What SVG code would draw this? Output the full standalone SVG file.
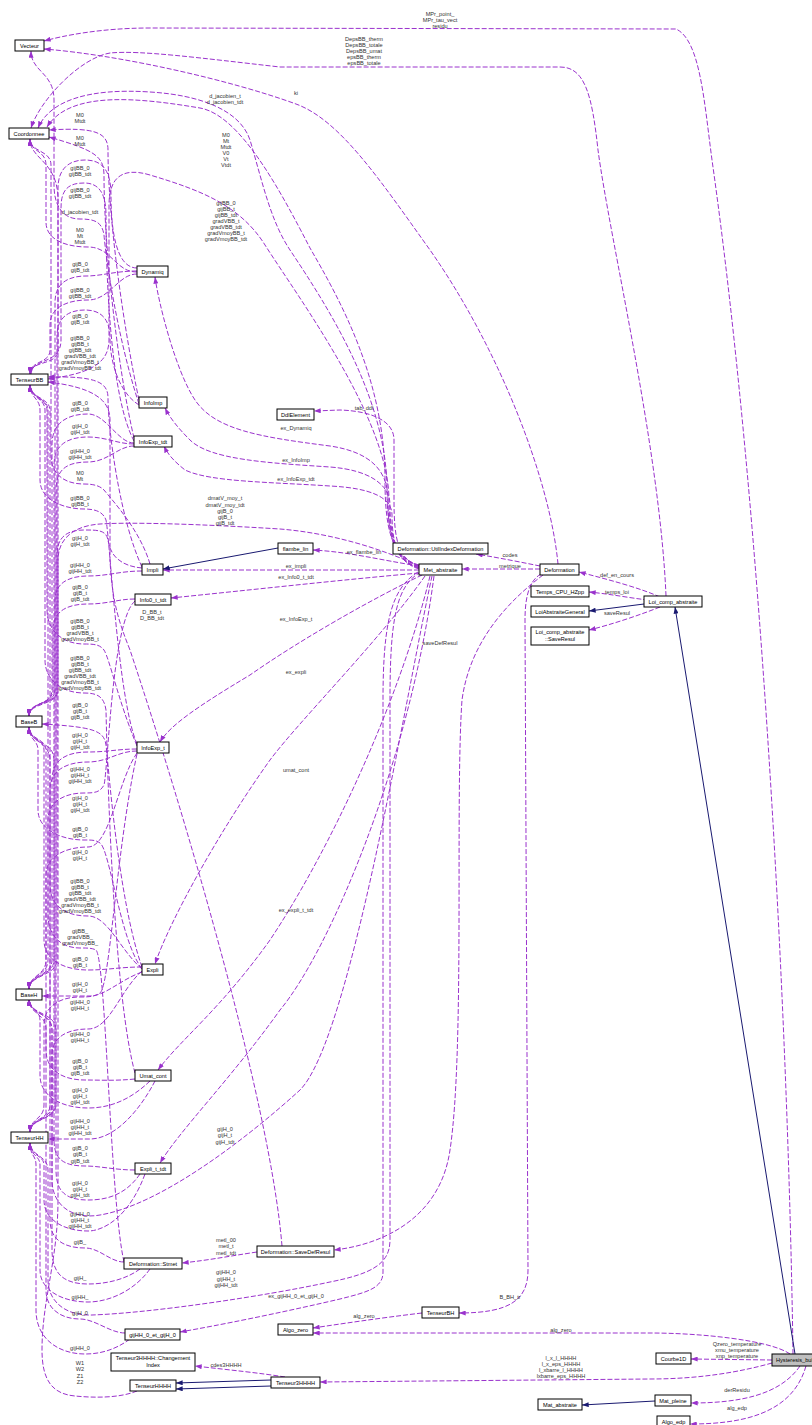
<svg xmlns="http://www.w3.org/2000/svg" width="812" height="1425" viewBox="0 0 812 1425">
<style>
.e{fill:none;stroke:#9a32cd;stroke-width:1;stroke-dasharray:5,2;marker-end:url(#ap)}
.n{fill:none;stroke:#191970;stroke-width:1;marker-end:url(#an)}
.l{font-family:"Liberation Sans",Arial,sans-serif;font-size:5.6px;fill:#333;text-anchor:middle}
.nd rect{fill:#fff;stroke:#000;stroke-width:1}
.nd text{font-family:"Liberation Sans",Arial,sans-serif;font-size:5.6px;fill:#000;text-anchor:middle}
</style>
<defs>
<marker id="ap" viewBox="0 0 8 6" refX="8" refY="3" markerWidth="7" markerHeight="5" markerUnits="userSpaceOnUse" orient="auto"><path d="M0,0 L8,3 L0,6 z" fill="#9a32cd" stroke="none"/></marker>
<marker id="an" viewBox="0 0 8 6" refX="8" refY="3" markerWidth="7" markerHeight="5" markerUnits="userSpaceOnUse" orient="auto"><path d="M0,0 L8,3 L0,6 z" fill="#191970" stroke="none"/></marker>
</defs>
<rect width="812" height="1425" fill="#fff"/>

<g id="connectors">
<!-- left column: member links into the tensor / base classes -->
<path class="e" d="M139,400 C124,330 108,220 108,150 C108,133 96,127 49,130"/>
<path class="e" d="M134,438 C118,370 104,250 104,175 C104,156 94,150 49,137"/>
<path class="e" d="M137,268 C116,268 111,230 111,195 C111,170 102,160 85,160 C68,160 58,170 58,188 L58,350 C58,366 30,360 30,374"/>
<path class="e" d="M134,441 C112,400 106,290 106,215 C106,192 98,183 84,183 C68,183 61,190 61,208 L61,340 C61,365 31,358 31,374"/>
<path class="e" d="M139,404 C118,340 106,260 104,235 C102,222 95,219 80,219 C62,219 54,205 54,185 L54,100 C54,72 31,72 31,51"/>
<path class="e" d="M137,272 C115,272 112,247 88,247 C66,247 46,240 46,222 L46,165 C46,150 30,152 30,139"/>
<path class="e" d="M137,271 C115,271 102,276 86,276 C66,276 55,285 55,302 L55,690 C55,706 29,700 29,716"/>
<path class="e" d="M137,274 C118,274 110,300 88,300 C66,300 50,308 50,325 L50,350 C50,364 30,360 30,374"/>
<path class="e" d="M139,405 C118,392 110,360 110,338 C110,318 100,310 85,310 C68,310 57,318 57,336 L57,690 C57,706 29,700 29,716"/>
<path class="e" d="M142,567 C120,520 108,430 108,398 C108,382 96,376 48,377"/>
<path class="e" d="M134,443 C118,443 106,414 88,414 C66,414 52,424 52,444 L52,690 C52,706 29,702 29,716"/>
<path class="e" d="M134,444 C118,444 106,437 88,437 C66,437 54,446 54,465 L54,960 C54,976 29,975 29,989"/>
<path class="e" d="M134,446 C118,446 108,462 88,462 C66,462 56,470 56,490 L56,1105 C56,1120 30,1118 30,1132"/>
<path class="e" d="M150,564 C140,530 112,500 104,490 C100,486 94,484 84,484 C64,484 51,474 51,455 L51,165 C51,150 30,152 30,139"/>
<path class="e" d="M137,744 C118,700 110,540 106,520 C103,512 96,509 84,509 C64,509 40,500 40,480 L40,410 C40,398 30,398 30,385"/>
<path class="e" d="M142,568 C120,566 110,555 108,540 C106,530 98,530 84,530 C66,530 57,538 57,555 L57,960 C57,976 29,975 29,989"/>
<path class="e" d="M142,571 C120,571 108,576 88,576 C66,576 55,585 55,600 L55,1105 C55,1120 30,1118 30,1132"/>
<path class="e" d="M135,599 C118,599 108,604 88,604 C66,604 53,612 53,630 L53,690 C53,705 29,702 29,716"/>
<path class="e" d="M137,746 C118,700 110,660 104,650 C100,645 96,644 84,644 C62,644 47,630 47,610 L47,410 C47,398 30,398 30,385"/>
<path class="e" d="M135,1073 C115,1000 108,800 106,710 C104,697 98,693 84,693 C62,693 45,680 45,660 L45,410 C45,398 30,398 30,385"/>
<path class="e" d="M142,967 C118,900 108,760 106,745 C104,731 95,727 42,724"/>
<path class="e" d="M137,749 C118,749 108,752 88,752 C66,752 52,760 52,780 L52,960 C52,976 29,975 29,989"/>
<path class="e" d="M137,751 C118,751 108,762 88,762 C64,762 50,772 50,790 L50,1105 C50,1120 30,1118 30,1132"/>
<path class="e" d="M135,601 C112,620 108,770 104,785 C100,792 96,793 84,793 C64,793 48,802 48,820 L48,960 C48,976 29,975 29,989"/>
<path class="e" d="M142,969 C120,940 110,850 100,843 C96,840 92,840 84,840 C62,840 38,830 38,810 L38,750 C38,740 29,740 29,727"/>
<path class="e" d="M137,753 C118,780 110,847 88,847 C66,847 46,856 46,875 L46,960 C46,976 29,975 29,989"/>
<path class="e" d="M142,969 C120,950 108,916 88,916 C64,916 50,905 50,885 L50,410 C50,398 30,398 30,385"/>
<path class="e" d="M124,1262 C110,1200 106,960 96,950 C92,948 88,948 80,948 C60,948 48,935 48,915 L48,410 C48,398 30,398 30,385"/>
<path class="e" d="M142,967 C120,967 108,970 88,970 C64,970 44,960 44,940 L44,750 C44,738 29,740 29,727"/>
<path class="e" d="M142,972 C120,980 105,996 90,996 L42,996"/>
<path class="e" d="M137,754 C116,850 110,985 100,993 C94,997 88,997 80,997 C60,997 44,1006 44,1025 L44,1105 C44,1120 30,1118 30,1132"/>
<path class="e" d="M142,971 C120,990 110,1029 88,1029 C66,1029 52,1038 52,1055 L52,1105 C52,1120 30,1118 30,1132"/>
<path class="e" d="M135,1079 C115,1081 100,1080 85,1080 C62,1080 46,1070 46,1050 L46,750 C46,738 29,740 29,727"/>
<path class="e" d="M150,1081 C130,1100 110,1108 88,1108 C64,1108 40,1098 40,1075 L40,1020 C40,1010 29,1010 29,999"/>
<path class="e" d="M155,1081 C140,1110 115,1139 90,1139 L48,1139"/>
<path class="e" d="M135,1170 C115,1170 100,1166 85,1166 C62,1166 54,1158 54,1140 L54,760 C54,740 29,745 29,727"/>
<path class="e" d="M140,1174 C125,1196 105,1200 88,1200 C64,1200 56,1190 56,1170 L56,1030 C56,1012 29,1015 29,999"/>
<path class="e" d="M145,1174 C130,1215 105,1231 88,1231 C64,1231 44,1220 44,1200 L44,1165 C44,1155 30,1156 30,1143"/>
<path class="e" d="M124,1262 C110,1262 100,1248 85,1248 C62,1248 50,1238 50,1220 L50,760 C50,742 29,742 29,727"/>
<path class="e" d="M140,1269 C125,1280 105,1284 88,1284 C62,1284 52,1272 52,1250 L52,1030 C52,1012 29,1015 29,999"/>
<path class="e" d="M150,1269 C135,1290 110,1302 88,1302 C62,1302 40,1290 40,1270 L40,1165 C40,1155 30,1156 30,1143"/>
<path class="e" d="M125,1333 C110,1333 95,1319 80,1319 C60,1319 46,1308 46,1290 L46,1030 C46,1012 29,1015 29,999"/>
<path class="e" d="M130,1339 C115,1350 100,1354 85,1354 C60,1354 36,1340 36,1310 L36,1165 C36,1155 30,1156 30,1143"/>
<path class="e" d="M137,1391 C120,1398 95,1398 75,1396 C52,1394 42,1380 42,1350 C42,1300 58,1260 58,1200 L58,200 C58,160 30,160 30,139"/>

<!-- Met_abstraite members -->
<path class="e" d="M419,566 C380,548 330,533 280,529 C200,524 130,522 100,524 C72,526 58,540 58,560 L58,690 C58,706 29,702 29,716"/>
<path class="e" d="M432,576 C405,700 350,1040 300,1090 C245,1140 160,1205 100,1215 C72,1220 52,1205 52,1180 L52,1030 C52,1012 29,1015 29,999"/>
<path class="e" d="M421,572 C396,585 390,620 390,700 L390,1240 C390,1265 370,1274 330,1282 C260,1297 150,1313 92,1315 C64,1316 48,1300 48,1280 L48,1170 C48,1155 30,1156 30,1143"/>
<path class="e" d="M418,572 C392,588 383,620 383,700 L383,1272 C383,1288 368,1292 340,1299 C280,1313 220,1325 180,1332"/>
<path class="e" d="M257,1252 C230,1256 210,1260 182,1263"/>
<path class="e" d="M282,1246 C270,1100 180,800 130,650 C118,620 112,600 110,560 L110,420 C110,398 90,387 48,382"/>
<path class="e" d="M793,1354 C788,1000 760,500 712,160 C704,100 700,40 676,29 L150,28 C100,28 62,36 44,41"/>
<path class="e" d="M666,596 C660,450 610,240 598,150 C592,95 585,67 560,67 L280,67 C200,58 140,50 110,53 C80,58 40,100 31,128"/>
<path class="e" d="M558,564 C550,480 500,350 430,250 C380,180 340,120 296,104 C230,80 120,55 44,49"/>
<path class="e" d="M419,565 C392,558 385,530 385,480 C385,380 340,300 310,248 C280,190 240,115 200,108 C140,98 70,90 47,127"/>
<path class="e" d="M419,566 C394,560 387,530 387,490 C387,400 330,310 290,250 C270,220 262,180 250,140 C240,110 200,95 150,92 C90,88 50,100 38,128"/>
<path class="e" d="M419,567 C395,562 389,535 389,500 C389,420 300,300 265,245 C240,205 200,190 150,175 C120,166 109,180 109,205 L109,340 C109,366 85,374 48,379"/>
<path class="e" d="M419,568 C396,562 388,540 388,500 C388,470 370,452 330,446 C260,437 215,430 195,400 C175,370 158,300 155,277"/>
<path class="e" d="M419,568 C398,562 390,540 390,505 C390,485 370,470 330,467 C270,463 210,460 190,440 C178,428 170,418 165,408"/>
<path class="e" d="M419,569 C399,563 392,545 392,515 C392,497 370,488 330,486 C270,482 210,482 185,470 C175,462 168,455 164,446"/>
<path class="e" d="M420,566 C398,560 394,540 394,500 L394,440 C394,420 370,411 340,410 L314,411"/>
<path class="e" d="M419,566 C380,560 350,552 313,550"/>
<path class="e" d="M419,570 L163,570"/>
<path class="e" d="M419,573 C340,580 250,590 171,598"/>
<path class="e" d="M422,575 C370,600 300,640 250,675 C200,705 170,725 160,742"/>
<path class="e" d="M425,576 C380,640 300,720 270,760 C220,830 170,920 155,964"/>
<path class="e" d="M430,576 C400,700 330,850 270,940 C220,1010 180,1040 158,1070"/>
<path class="e" d="M434,576 C410,760 330,950 280,1010 C230,1080 180,1130 160,1163"/>

<!-- Deformation / Loi_comp_abstraite members -->
<path class="e" d="M543,575 C510,600 470,640 462,700 C455,800 465,1050 450,1150 C440,1220 380,1245 334,1250"/>
<path class="e" d="M541,574 C530,580 525,595 525,620 L528,1270 C528,1300 510,1313 459,1313"/>
<path class="e" d="M540,566 C520,562 500,558 476,554"/>
<path class="e" d="M540,569 L462,569"/>
<path class="e" d="M660,597 C640,588 610,580 579,572"/>
<path class="e" d="M648,600 C630,598 610,594 589,592"/>
<path class="e" d="M660,607 C640,615 610,625 589,630"/>

<!-- Hysteresis_bulk members -->
<path class="e" d="M790,1354 C770,1340 700,1333 650,1333 L313,1333"/>
<path class="e" d="M422,1313 C380,1318 340,1324 313,1328"/>
<path class="e" d="M772,1360 L691,1359"/>
<path class="e" d="M772,1363 C740,1372 700,1379 650,1379 L320,1382"/>
<path class="e" d="M285,1377 C260,1373 230,1370 195,1366"/>
<path class="e" d="M800,1366 C780,1395 740,1403 691,1403"/>
<path class="e" d="M806,1366 C792,1415 740,1424 690,1424"/>

<!-- inheritance -->
<path class="n" d="M278,548 L163,569"/>
<path class="n" d="M644,604 L589,611"/>
<path class="n" d="M795,1354 L675,607"/>
<path class="n" d="M271,1380 L176,1383"/>
<path class="n" d="M271,1386 L176,1389"/>
<path class="n" d="M655,1401 L582,1405"/>

<!-- connector labels -->
<g class="l">
<text x="440" y="16">MPr_point_</text><text x="440" y="22">MPr_tau_vect</text><text x="440" y="28">residu</text>
<text x="364" y="41">DepsBB_therm</text><text x="364" y="47">DepsBB_totale</text><text x="364" y="53">DepsBB_umat</text><text x="364" y="59">epsBB_therm</text><text x="364" y="65">epsBB_totale</text>
<text x="296" y="95">ki</text>
<text x="225" y="98">d_jacobien_t</text><text x="225" y="104">d_jacobien_tdt</text>
<text x="226" y="137">M0</text><text x="226" y="143">Mt</text><text x="226" y="149">Mtdt</text><text x="226" y="155">V0</text><text x="226" y="161">Vt</text><text x="226" y="167">Vtdt</text>
<text x="226" y="205">gijBB_0</text><text x="226" y="211">gijBB_t</text><text x="226" y="217">gijBB_tdt</text><text x="226" y="223">gradVBB_t</text><text x="226" y="229">gradVBB_tdt</text><text x="226" y="235">gradVmoyBB_t</text><text x="226" y="241">gradVmoyBB_tdt</text>

<text x="80" y="117">M0</text><text x="80" y="123">Mtdt</text>
<text x="80" y="140">M0</text><text x="80" y="146">Mtdt</text>
<text x="80" y="170">gijBB_0</text><text x="80" y="176">gijBB_tdt</text>
<text x="80" y="192">gijBB_0</text><text x="80" y="198">gijBB_tdt</text>
<text x="80" y="214">d_jacobien_tdt</text>
<text x="80" y="232">M0</text><text x="80" y="238">Mt</text><text x="80" y="244">Mtdt</text>
<text x="80" y="266">gijB_0</text><text x="80" y="272">gijB_tdt</text>
<text x="80" y="292">gijBB_0</text><text x="80" y="298">gijBB_tdt</text>
<text x="80" y="318">gijB_0</text><text x="80" y="324">gijB_tdt</text>
<text x="80" y="340">gijBB_0</text><text x="80" y="346">gijBB_t</text><text x="80" y="352">gijBB_tdt</text><text x="80" y="358">gradVBB_tdt</text><text x="80" y="364">gradVmoyBB_t</text><text x="80" y="370">gradVmoyBB_tdt</text>
<text x="80" y="405">gijB_0</text><text x="80" y="411">gijB_tdt</text>
<text x="80" y="428">gijH_0</text><text x="80" y="434">gijH_tdt</text>
<text x="80" y="453">gijHH_0</text><text x="80" y="459">gijHH_tdt</text>
<text x="80" y="475">M0</text><text x="80" y="481">Mt</text>
<text x="80" y="500">gijBB_0</text><text x="80" y="506">gijBB_t</text>
<text x="80" y="540">gijH_0</text><text x="80" y="546">gijH_tdt</text>
<text x="80" y="567">gijHH_0</text><text x="80" y="573">gijHH_tdt</text>
<text x="80" y="589">gijB_0</text><text x="80" y="595">gijB_t</text><text x="80" y="601">gijB_tdt</text>
<text x="80" y="623">gijBB_0</text><text x="80" y="629">gijBB_t</text><text x="80" y="635">gradVBB_t</text><text x="80" y="641">gradVmoyBB_t</text>
<text x="80" y="660">gijBB_0</text><text x="80" y="666">gijBB_t</text><text x="80" y="672">gijBB_tdt</text><text x="80" y="678">gradVBB_tdt</text><text x="80" y="684">gradVmoyBB_t</text><text x="80" y="690">gradVmoyBB_tdt</text>
<text x="80" y="707">gijB_0</text><text x="80" y="713">gijB_t</text><text x="80" y="719">gijB_tdt</text>
<text x="80" y="737">gijH_0</text><text x="80" y="743">gijH_t</text><text x="80" y="749">gijH_tdt</text>
<text x="80" y="771">gijHH_0</text><text x="80" y="777">gijHH_t</text><text x="80" y="783">gijHH_tdt</text>
<text x="80" y="800">gijH_0</text><text x="80" y="806">gijH_t</text><text x="80" y="812">gijH_tdt</text>
<text x="80" y="831">gijB_0</text><text x="80" y="837">gijB_t</text>
<text x="80" y="854">gijH_0</text><text x="80" y="860">gijH_t</text>
<text x="80" y="883">gijBB_0</text><text x="80" y="889">gijBB_t</text><text x="80" y="895">gijBB_tdt</text><text x="80" y="901">gradVBB_tdt</text><text x="80" y="907">gradVmoyBB_t</text><text x="80" y="913">gradVmoyBB_tdt</text>
<text x="80" y="933">gijBB_</text><text x="80" y="939">gradVBB_</text><text x="80" y="945">gradVmoyBB_</text>
<text x="80" y="961">gijB_0</text><text x="80" y="967">gijB_t</text>
<text x="80" y="986">gijH_0</text><text x="80" y="992">gijH_t</text>
<text x="80" y="1004">gijHH_0</text><text x="80" y="1010">gijHH_t</text>
<text x="80" y="1036">gijHH_0</text><text x="80" y="1042">gijHH_t</text>
<text x="80" y="1063">gijB_0</text><text x="80" y="1069">gijB_t</text><text x="80" y="1075">gijB_tdt</text>
<text x="80" y="1092">gijH_0</text><text x="80" y="1098">gijH_t</text><text x="80" y="1104">gijH_tdt</text>
<text x="80" y="1123">gijHH_0</text><text x="80" y="1129">gijHH_t</text><text x="80" y="1135">gijHH_tdt</text>
<text x="80" y="1150">gijB_0</text><text x="80" y="1156">gijB_t</text><text x="80" y="1163">gijB_tdt</text>
<text x="80" y="1185">gijH_0</text><text x="80" y="1191">gijH_t</text><text x="80" y="1197">gijH_tdt</text>
<text x="80" y="1216">gijHH_0</text><text x="80" y="1222">gijHH_t</text><text x="80" y="1228">gijHH_tdt</text>
<text x="80" y="1244">gijB_</text>
<text x="80" y="1280">gijH_</text>
<text x="80" y="1299">gijHH_</text>
<text x="80" y="1315">gijH_0</text>
<text x="80" y="1350">gijHH_0</text>
<text x="80" y="1365">W1</text><text x="80" y="1371">W2</text><text x="80" y="1378">Z1</text><text x="80" y="1384">Z2</text>

<text x="152" y="614">D_BB_t</text><text x="152" y="620">D_BB_tdt</text>
<text x="225" y="500">dmatV_moy_t</text><text x="225" y="507">dmatV_moy_tdt</text><text x="225" y="513">gijB_0</text><text x="225" y="519">gijB_t</text><text x="225" y="525">gijB_tdt</text>
<text x="225" y="1131">gijH_0</text><text x="225" y="1137">gijH_t</text><text x="225" y="1144">gijH_tdt</text>
<text x="226" y="1242">metl_00</text><text x="226" y="1248">metl_t</text><text x="226" y="1255">metl_tdt</text>
<text x="226" y="1274">gijHH_0</text><text x="226" y="1281">gijHH_t</text><text x="226" y="1287">gijHH_tdt</text>
<text x="296" y="1298">ex_gijHH_0_et_gijH_0</text>
<text x="364" y="1318">alg_zero</text>
<text x="510" y="1299">B_BH_tr</text>
<text x="561" y="1332">alg_zero</text>
<text x="737" y="1346">Qzero_temperature</text><text x="737" y="1352">xmu_temperature</text><text x="737" y="1358">xnp_temperature</text>
<text x="561" y="1360">l_x_l_HHHH</text><text x="561" y="1366">l_x_eps_HHHH</text><text x="561" y="1372">l_xbarre_l_HHHH</text><text x="561" y="1378">lxbarre_eps_HHHH</text>
<text x="226" y="1367">cdes3HHHH</text>
<text x="737" y="1392">derResidu</text>
<text x="737" y="1410">alg_edp</text>
<text x="364" y="410">tab_ddl</text>
<text x="296" y="430">ex_Dynamiq</text>
<text x="296" y="462">ex_InfoImp</text>
<text x="296" y="481">ex_InfoExp_tdt</text>
<text x="364" y="554">ex_flambe_lin</text>
<text x="296" y="568">ex_impli</text>
<text x="296" y="579">ex_Info0_t_tdt</text>
<text x="296" y="621">ex_InfoExp_t</text>
<text x="296" y="674">ex_expli</text>
<text x="440" y="645">saveDefResul</text>
<text x="296" y="772">umat_cont</text>
<text x="296" y="912">ex_expli_t_tdt</text>
<text x="510" y="557">codes</text>
<text x="510" y="568">metrique</text>
<text x="617" y="577">def_en_cours</text>
<text x="617" y="594">temps_loi</text>
<text x="617" y="615">saveResul</text>
</g>
</g>

<g id="n_Vecteur" class="nd"><rect x="15" y="40" width="29" height="11"/><text x="29.5" y="47.5">Vecteur</text></g>
<g id="n_Coordonnee" class="nd"><rect x="9" y="128" width="40" height="11"/><text x="29" y="135.5">Coordonnee</text></g>
<g id="n_Dynamiq" class="nd"><rect x="137" y="266" width="31" height="11"/><text x="152.5" y="273.5">Dynamiq</text></g>
<g id="n_TenseurBB" class="nd"><rect x="11" y="374" width="37" height="11"/><text x="29.5" y="381.5">TenseurBB</text></g>
<g id="n_InfoImp" class="nd"><rect x="139" y="397" width="28" height="11"/><text x="153" y="404.5">InfoImp</text></g>
<g id="n_InfoExp_tdt" class="nd"><rect x="134" y="436" width="38" height="11"/><text x="153" y="443.5">InfoExp_tdt</text></g>
<g id="n_DdlElement" class="nd"><rect x="277" y="409" width="37" height="11"/><text x="295.5" y="416.5">DdlElement</text></g>
<g id="n_Impli" class="nd"><rect x="142" y="564" width="21" height="11"/><text x="152.5" y="571.5">Impli</text></g>
<g id="n_Info0_t_tdt" class="nd"><rect x="135" y="594" width="36" height="11"/><text x="153" y="601.5">Info0_t_tdt</text></g>
<g id="n_BaseB" class="nd"><rect x="16" y="716" width="26" height="11"/><text x="29" y="723.5">BaseB</text></g>
<g id="n_InfoExp_t" class="nd"><rect x="137" y="742" width="32" height="11"/><text x="153" y="749.5">InfoExp_t</text></g>
<g id="n_Expli" class="nd"><rect x="142" y="964" width="21" height="11"/><text x="152.5" y="971.5">Expli</text></g>
<g id="n_BaseH" class="nd"><rect x="16" y="989" width="26" height="11"/><text x="29" y="996.5">BaseH</text></g>
<g id="n_Umat_cont" class="nd"><rect x="135" y="1070" width="36" height="11"/><text x="153" y="1077.5">Umat_cont</text></g>
<g id="n_TenseurHH" class="nd"><rect x="11" y="1132" width="37" height="11"/><text x="29.5" y="1139.5">TenseurHH</text></g>
<g id="n_Expli_t_tdt" class="nd"><rect x="135" y="1163" width="36" height="11"/><text x="153" y="1170.5">Expli_t_tdt</text></g>
<g id="n_SaveDefResul" class="nd"><rect x="257" y="1246" width="77" height="11"/><text x="295.5" y="1253.5">Deformation::SaveDefResul</text></g>
<g id="n_Stmet" class="nd"><rect x="124" y="1258" width="58" height="11"/><text x="153" y="1265.5">Deformation::Stmet</text></g>
<g id="n_gijHH_0_et_gijH_0" class="nd"><rect x="125" y="1329" width="55" height="11"/><text x="152.5" y="1336.5">gijHH_0_et_gijH_0</text></g>
<g id="n_Algo_zero" class="nd"><rect x="278" y="1324" width="35" height="11"/><text x="295.5" y="1331.5">Algo_zero</text></g>
<g id="n_TenseurBH" class="nd"><rect x="422" y="1307" width="37" height="11"/><text x="440.5" y="1314.5">TenseurBH</text></g>
<g id="n_ChangementIndex" class="nd"><rect x="111" y="1353" width="84" height="18"/><text x="153" y="1360">Tenseur3HHHH::Changement</text><text x="153" y="1367">Index</text></g>
<g id="n_TenseurHHHH" class="nd"><rect x="130" y="1380" width="46" height="11"/><text x="153" y="1387.5">TenseurHHHH</text></g>
<g id="n_Tenseur3HHHH" class="nd"><rect x="271" y="1377" width="49" height="11"/><text x="295.5" y="1384.5">Tenseur3HHHH</text></g>
<g id="n_Met_abstraite" class="nd"><rect x="419" y="564" width="43" height="11"/><text x="440.5" y="571.5">Met_abstraite</text></g>
<g id="n_UtilIndexDeformation" class="nd"><rect x="393" y="543" width="95" height="11"/><text x="440.5" y="550.5">Deformation::UtilIndexDeformation</text></g>
<g id="n_flambe_lin" class="nd"><rect x="278" y="543" width="35" height="11"/><text x="295.5" y="550.5">flambe_lin</text></g>
<g id="n_Deformation" class="nd"><rect x="540" y="564" width="39" height="11"/><text x="559.5" y="571.5">Deformation</text></g>
<g id="n_Temps_CPU_HZpp" class="nd"><rect x="531" y="586" width="58" height="11"/><text x="560" y="593.5">Temps_CPU_HZpp</text></g>
<g id="n_LoiAbstraiteGeneral" class="nd"><rect x="531" y="606" width="58" height="11"/><text x="560" y="613.5">LoiAbstraiteGeneral</text></g>
<g id="n_SaveResul" class="nd"><rect x="531" y="627" width="58" height="18"/><text x="560" y="634">Loi_comp_abstraite</text><text x="560" y="641">::SaveResul</text></g>
<g id="n_Loi_comp_abstraite" class="nd"><rect x="644" y="596" width="58" height="11"/><text x="673" y="603.5">Loi_comp_abstraite</text></g>
<g id="n_Courbe1D" class="nd"><rect x="656" y="1353" width="35" height="11"/><text x="673.5" y="1360.5">Courbe1D</text></g>
<g id="n_Hysteresis_bulk" class="nd"><rect x="772" y="1354" width="50" height="12" style="fill:#bfbfbf"/><text x="776" y="1362" style="text-anchor:start">Hysteresis_bulk</text></g>
<g id="n_Mat_abstraite" class="nd"><rect x="538" y="1399" width="44" height="11"/><text x="560" y="1406.5">Mat_abstraite</text></g>
<g id="n_Mat_pleine" class="nd"><rect x="655" y="1395" width="36" height="11"/><text x="673" y="1402.5">Mat_pleine</text></g>
<g id="n_Algo_edp" class="nd"><rect x="657" y="1416" width="33" height="11"/><text x="673.5" y="1423.5">Algo_edp</text></g>
</svg>
